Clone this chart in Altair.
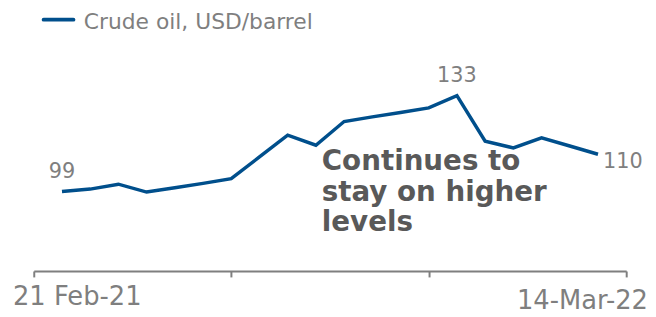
import altair as alt
import pandas as pd

# Data
week_index = list(range(20))
oil_price = [97.8, 98.7, 100.5, 97.6, 99.2, 100.8, 102.5, 110.5, 118.5, 114.8,
             123.5, 125.2, 126.8, 128.5, 133.0, 116.3, 113.8, 117.5, 114.5, 111.5]
label_index = [0, 14, 19]
label_text = ["99", "133", "110"]
x_tick_values = [-1, 6, 13, 20]
x_end_labels = ["21 Feb-21", "14-Mar-22"]
series_name = "Crude oil, USD/barrel"
annotation = ["Continues to", "stay on higher", "levels"]

LINE_COLOR = "#004F8C"
GRAY = "#7f7f7f"
DARK = "#595959"
FONT = "DejaVu Sans"

df = pd.DataFrame({"idx": week_index, "price": oil_price})
lab = pd.DataFrame({"idx": label_index, "price": [oil_price[i] for i in label_index], "txt": label_text})

xs = alt.Scale(domain=[-1, 20], nice=False, zero=False)
ys = alt.Scale(domain=[68.64, 164.64], nice=False, zero=False)

x_axis = alt.Axis(values=x_tick_values, labels=False, title=None, grid=False,
                  tickSize=6, tickWidth=2, tickColor=GRAY, domainColor=GRAY, domainWidth=2)

line = alt.Chart(df).mark_line(color=LINE_COLOR, strokeWidth=3.5).encode(
    x=alt.X("idx:Q", scale=xs, axis=x_axis),
    y=alt.Y("price:Q", scale=ys, axis=None),
)

lab_center = alt.Chart(lab[lab["txt"] != "110"]).mark_text(
    font=FONT, fontSize=21, color=GRAY, align="center", baseline="alphabetic", dy=-14
).encode(x=alt.X("idx:Q", scale=xs), y=alt.Y("price:Q", scale=ys), text="txt:N")

lab_right = alt.Chart(lab[lab["txt"] == "110"]).mark_text(
    font=FONT, fontSize=21, color=GRAY, align="left", baseline="alphabetic", dx=5, dy=14
).encode(x=alt.X("idx:Q", scale=xs), y=alt.Y("price:Q", scale=ys), text="txt:N")

ends = pd.DataFrame({"idx": [-1], "txt": [x_end_labels[0]]})
ends2 = pd.DataFrame({"idx": [20], "txt": [x_end_labels[1]]})
tick_l = alt.Chart(ends).mark_text(font=FONT, fontSize=26, color=GRAY, align="left",
                                   baseline="alphabetic", dx=-21).encode(
    x=alt.X("idx:Q", scale=xs), y=alt.value(298.7), text="txt:N")
tick_r = alt.Chart(ends2).mark_text(font=FONT, fontSize=26, color=GRAY, align="right",
                                    baseline="alphabetic", dx=22).encode(
    x=alt.X("idx:Q", scale=xs), y=alt.value(302), text="txt:N")

leg_line = alt.Chart(pd.DataFrame({"a": [0]})).mark_rule(
    color=LINE_COLOR, strokeWidth=4, strokeCap="round").encode(
    x=alt.value(10), x2=alt.value(40), y=alt.value(10.3))
leg_text = alt.Chart(pd.DataFrame({"t": [series_name]})).mark_text(
    font=FONT, fontSize=22, color=GRAY, align="left", baseline="alphabetic").encode(
    x=alt.value(50.5), y=alt.value(19.3), text="t:N")

note = alt.Chart(pd.DataFrame({"t": [annotation]})).mark_text(
    font=FONT, fontSize=28, fontWeight="bold", color=DARK, align="left",
    baseline="alphabetic", lineHeight=31).encode(
    x=alt.value(290.7), y=alt.value(162), text="t")

chart = alt.layer(line, lab_center, lab_right, tick_l, tick_r, leg_line, leg_text, note).properties(
    width=598, height=264,
    autosize=alt.AutoSizeParams(type="none"),
    padding={"left": 26, "top": 0, "right": 22, "bottom": 45},
).configure_view(stroke=None)

chart.save("out.html", embed_options={"renderer": "svg", "actions": False})
